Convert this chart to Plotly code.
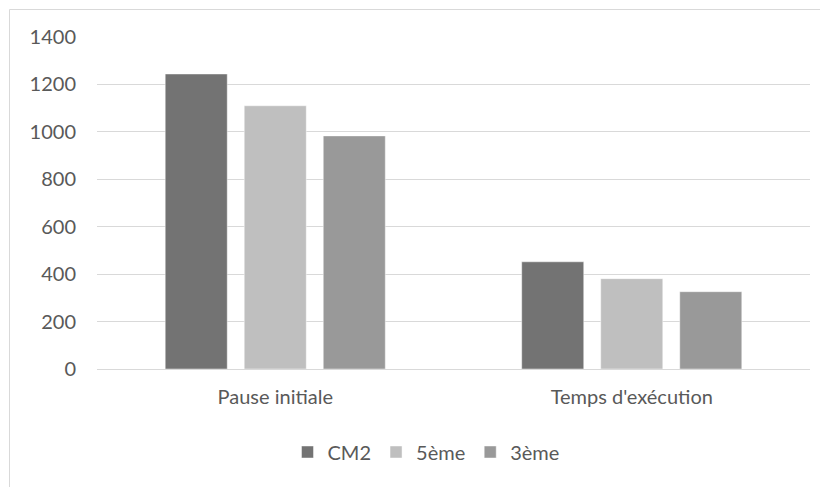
import plotly.graph_objects as go

categories = ["Pause initiale", "Temps d'exécution"]
series_names = ["CM2", "5ème", "3ème"]
cm2 = [1244, 452]
cinq = [1110, 381]
trois = [983, 326]
colors = ["#737373", "#bfbfbf", "#999999"]
y_ticks = [0, 200, 400, 600, 800, 1000, 1200, 1400]

# page body has an 8px margin, so the figure is drawn offset by 8px
OFF = 8
W, H = 828 - OFF, 487 - OFF
PX0, PX1, PY0, PY1 = 97, 810, 37, 369   # plot area in window pixels
L, R, T, B = PX0 - OFF, 828 - PX1, PY0 - OFF, 487 - PY1

fig = go.Figure()
for name, vals, col in zip(series_names, [cm2, cinq, trois], colors):
    fig.add_trace(go.Bar(x=categories, y=vals, name=name,
                         marker=dict(color=col, line=dict(color="rgba(255,255,255,0.45)", width=1))))

def px2x(px):
    return (px - PX0) / (PX1 - PX0)

def py2y(py):
    return (PY1 - py) / (PY1 - PY0)

fig.update_layout(
    width=W, height=H,
    margin=dict(l=L, r=R, t=T, b=B),
    paper_bgcolor="white", plot_bgcolor="white",
    barmode="group", bargap=0.335, bargroupgap=0.215,
    font=dict(family="Lato, Open Sans, sans-serif", size=20, color="#595959"),
    showlegend=True,
    legend=dict(orientation="h", x=px2x(426), xanchor="center", y=py2y(452), yanchor="middle",
                font=dict(size=20, color="#595959"), itemwidth=30, traceorder="normal"),
    xaxis=dict(showgrid=False, showline=False, ticks="", ticklabelstandoff=14),
    yaxis=dict(range=[0, 1400], tickvals=y_ticks, showgrid=True, gridcolor="#d9d9d9", gridwidth=1,
               zeroline=True, zerolinecolor="#d9d9d9", zerolinewidth=1, showline=False, ticks="",
               ticklabelstandoff=20),
    shapes=[dict(type="rect", xref="paper", yref="paper",
                 x0=px2x(9.5), x1=px2x(860), y0=py2y(520), y1=py2y(9.5),
                 line=dict(color="#d9d9d9", width=1), fillcolor="rgba(0,0,0,0)", layer="below")],
)

fig.write_html("out.html")
